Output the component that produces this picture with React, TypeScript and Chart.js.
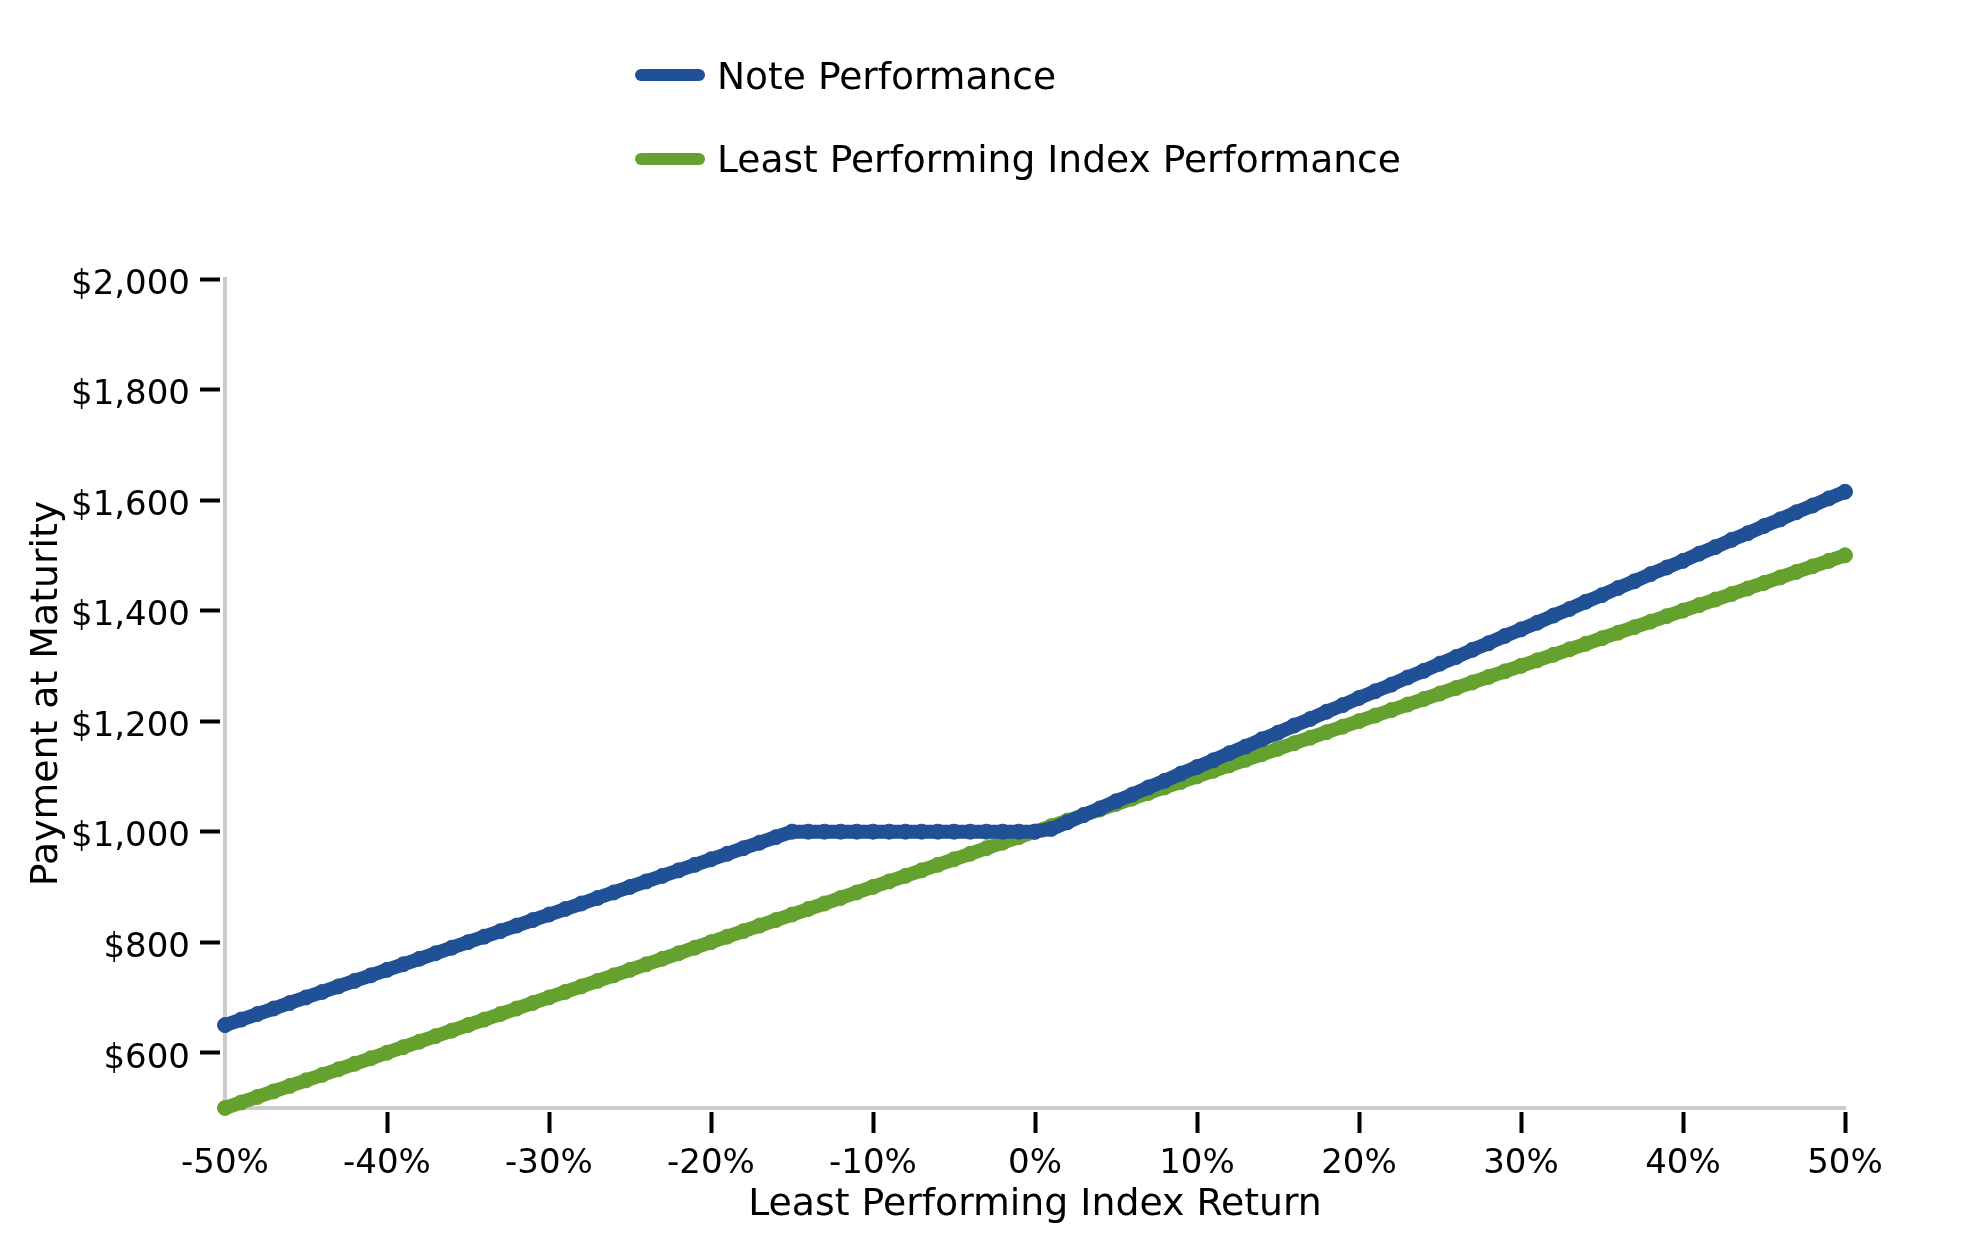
import React, { useEffect, useRef } from "react";
import { Chart, registerables } from "chart.js";

Chart.register(...registerables);

const RETURNS = [
  -50, -49, -48, -47, -46, -45, -44, -43, -42, -41,
  -40, -39, -38, -37, -36, -35, -34, -33, -32, -31,
  -30, -29, -28, -27, -26, -25, -24, -23, -22, -21,
  -20, -19, -18, -17, -16, -15, -14, -13, -12, -11,
  -10, -9, -8, -7, -6, -5, -4, -3, -2, -1,
  0, 1, 2, 3, 4, 5, 6, 7, 8, 9,
  10, 11, 12, 13, 14, 15, 16, 17, 18, 19,
  20, 21, 22, 23, 24, 25, 26, 27, 28, 29,
  30, 31, 32, 33, 34, 35, 36, 37, 38, 39,
  40, 41, 42, 43, 44, 45, 46, 47, 48, 49,
  50,
];

const NOTE_PERFORMANCE = [
  650, 660, 670, 680, 690, 700, 710, 720, 730, 740,
  750, 760, 770, 780, 790, 800, 810, 820, 830, 840,
  850, 860, 870, 880, 890, 900, 910, 920, 930, 940,
  950, 960, 970, 980, 990, 1000, 1000, 1000, 1000, 1000,
  1000, 1000, 1000, 1000, 1000, 1000, 1000, 1000, 1000, 1000,
  1000, 1005, 1017, 1030, 1042, 1055, 1067, 1080, 1092, 1105,
  1117, 1129, 1142, 1154, 1167, 1179, 1192, 1204, 1217, 1229,
  1242, 1254, 1266, 1279, 1291, 1304, 1316, 1329, 1341, 1354,
  1366, 1378, 1391, 1403, 1416, 1428, 1441, 1453, 1466, 1478,
  1490, 1503, 1515, 1528, 1540, 1553, 1565, 1578, 1590, 1603,
  1615,
];

const INDEX_PERFORMANCE = [
  500, 510, 520, 530, 540, 550, 560, 570, 580, 590,
  600, 610, 620, 630, 640, 650, 660, 670, 680, 690,
  700, 710, 720, 730, 740, 750, 760, 770, 780, 790,
  800, 810, 820, 830, 840, 850, 860, 870, 880, 890,
  900, 910, 920, 930, 940, 950, 960, 970, 980, 990,
  1000, 1010, 1020, 1030, 1040, 1050, 1060, 1070, 1080, 1090,
  1100, 1110, 1120, 1130, 1140, 1150, 1160, 1170, 1180, 1190,
  1200, 1210, 1220, 1230, 1240, 1250, 1260, 1270, 1280, 1290,
  1300, 1310, 1320, 1330, 1340, 1350, 1360, 1370, 1380, 1390,
  1400, 1410, 1420, 1430, 1440, 1450, 1460, 1470, 1480, 1490,
  1500,
];

const SERIES_LABELS = ["Note Performance", "Least Performing Index Performance"];
const SERIES_COLORS = ["#205096", "#65a12e"];
const Y_TICKS = [600, 800, 1000, 1200, 1400, 1600, 1800, 2000];
const X_TICKS = [-50, -40, -30, -20, -10, 0, 10, 20, 30, 40, 50];
const X_TITLE = "Least Performing Index Return";
const Y_TITLE = "Payment at Maturity";

const FONT = "'DejaVu Sans', 'Liberation Sans', sans-serif";

const legendPlugin = {
  id: "stackedLegend",
  afterDraw(chart: any) {
    const ctx = chart.ctx;
    const rows = [
      { line: 75, text: 79 },
      { line: 159, text: 162 },
    ];
    ctx.save();
    chart.data.datasets.forEach((ds: any, i: number) => {
      const r = rows[i];
      ctx.strokeStyle = ds.borderColor;
      ctx.lineWidth = 12;
      ctx.lineCap = "round";
      ctx.beginPath();
      ctx.moveTo(641, r.line);
      ctx.lineTo(699, r.line);
      ctx.stroke();
      ctx.fillStyle = "#000";
      ctx.font = `37.6px ${FONT}`;
      ctx.textBaseline = "middle";
      ctx.textAlign = "left";
      ctx.fillText(ds.label, 717, r.text);
    });
    ctx.restore();
  },
};

export default function App() {
  const canvasRef = useRef<HTMLCanvasElement | null>(null);

  useEffect(() => {
    if (!canvasRef.current) return;
    Chart.defaults.font.family = FONT;
    Chart.defaults.color = "#000";
    const series = [NOTE_PERFORMANCE, INDEX_PERFORMANCE];
    const chart = new Chart(canvasRef.current, {
      type: "line",
      data: {
        datasets: series.map((vals, i) => ({
          label: SERIES_LABELS[i],
          data: RETURNS.map((r, j) => ({ x: r, y: vals[j] })),
          borderColor: SERIES_COLORS[i],
          backgroundColor: SERIES_COLORS[i],
          pointBackgroundColor: SERIES_COLORS[i],
          pointBorderColor: SERIES_COLORS[i],
          borderWidth: 14,
          pointRadius: 7.5,
          pointBorderWidth: 1,
          pointHoverRadius: 7.5,
          fill: false,
          tension: 0,
          clip: false as any,
          borderCapStyle: "round" as const,
          borderJoinStyle: "round" as const,
        })),
      },
      options: {
        responsive: false,
        animation: false,
        events: [],
        layout: { padding: { top: 279, right: 134, left: 0, bottom: 0 } },
        plugins: {
          legend: { display: false },
          tooltip: { enabled: false },
        },
        scales: {
          x: {
            type: "linear",
            min: -50,
            max: 50,
            afterBuildTicks: (scale: any) => {
              scale.ticks = X_TICKS.map((v) => ({ value: v }));
            },
            afterFit: (scale: any) => {
              scale.height = 142;
            },
            ticks: {
              font: { size: 34 },
              color: "#000",
              padding: 11,
              maxRotation: 0,
              autoSkip: false,
              callback: (v: any) => `${v}%`,
            },
            grid: {
              drawOnChartArea: false,
              drawTicks: true,
              tickLength: 25,
              tickWidth: 4,
              tickColor: (ctx: any) =>
                ctx.tick && ctx.tick.value === -50 ? "rgba(0,0,0,0)" : "#000",
              tickBorderDash: [0, 2, 21, 100],
            } as any,
            border: { display: true, color: "#c8ccd1", width: 4 },
            title: {
              display: true,
              text: X_TITLE,
              font: { size: 37.8 },
              color: "#000",
              padding: { top: 0, bottom: 22 },
            },
          },
          y: {
            type: "linear",
            min: 500,
            max: 2000,
            afterBuildTicks: (scale: any) => {
              scale.ticks = Y_TICKS.map((v) => ({ value: v }));
            },
            afterFit: (scale: any) => {
              scale.width = 225;
            },
            ticks: {
              font: { size: 34 },
              color: "#000",
              padding: 10,
              labelOffset: 6,
              autoSkip: false,
              callback: (v: any) => `$${Number(v).toLocaleString("en-US")}`,
            },
            grid: {
              drawOnChartArea: false,
              drawTicks: true,
              tickLength: 25,
              tickWidth: 4,
              tickColor: "#000",
              tickBorderDash: [20, 100],
            } as any,
            border: { display: true, color: "#c8ccd1", width: 4 },
            title: {
              display: true,
              text: Y_TITLE,
              font: { size: 37.8 },
              color: "#000",
              padding: { top: 24, bottom: 0 },
            },
          },
        },
      },
      plugins: [legendPlugin],
    });
    return () => chart.destroy();
  }, []);

  return (
    <div style={{ position: "absolute", left: 0, top: 0, width: 1979, height: 1250, background: "#fff" }}>
      <canvas ref={canvasRef} width={1979} height={1250} style={{ width: 1979, height: 1250, display: "block" }} />
    </div>
  );
}
